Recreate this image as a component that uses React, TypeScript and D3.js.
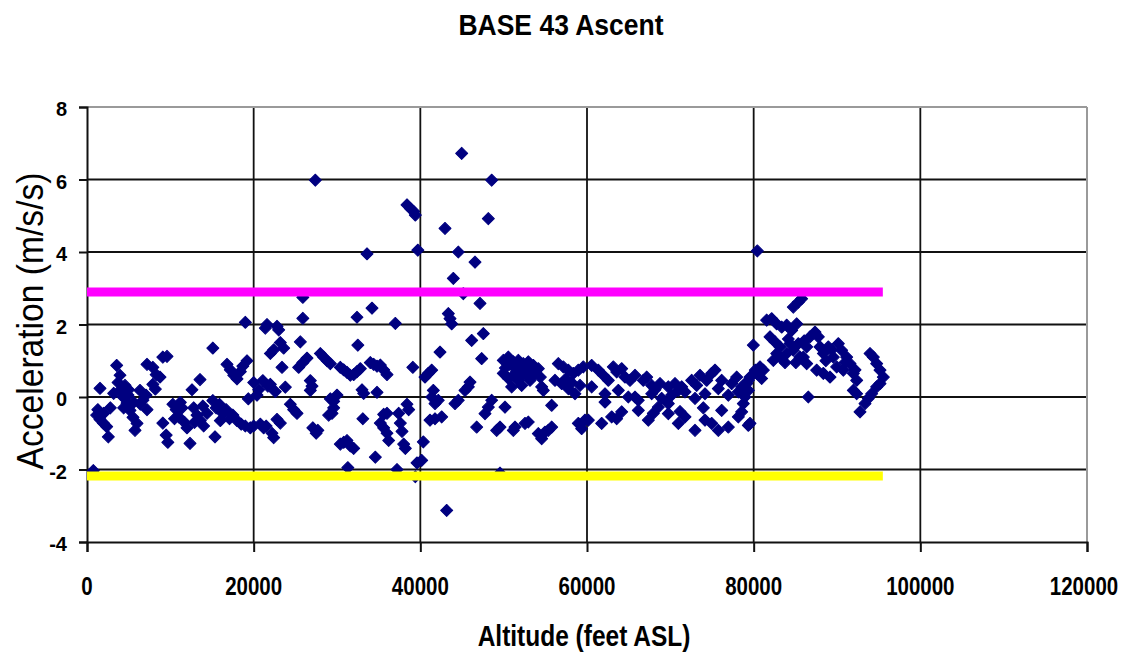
import { useEffect, useRef } from "react";
import * as d3 from "d3";

// [altitude (ft), acceleration (m/s/s)], grouped by altitude band
const band0to20k: [number, number][] = [
  [760, -2.03], [1560, 0.24], [1160, -0.5], [1560, -0.62], [1960, -0.72], [2360, -0.82],
  [2560, -1.1], [1300, -0.35], [2000, -0.45], [3560, 0.87], [3720, 0.4], [3960, 0.18],
  [4320, 0], [4800, -0.17], [5160, -0.37], [5520, -0.56], [6000, -0.73], [5760, -0.92],
  [3960, 0.6], [4560, 0.32], [4920, 0.05], [6360, 0.18], [6720, -0.09], [7080, 0.05],
  [7200, 0.9], [7900, 0.82], [8300, 0.62], [8760, 0.55], [9100, 1.1], [9600, 1.12],
  [7900, 0.35], [8200, 0.22], [9100, -0.72], [9500, -1.05], [9700, -1.25], [6400, -0.2],
  [7200, -0.35], [10300, -0.2], [10700, -0.35], [11000, -0.55], [11400, -0.3], [11700, -0.7],
  [12000, -0.85], [10500, -0.6], [11200, -0.15], [12360, -1.28], [12600, 0.2], [13560, 0.48],
  [12800, -0.3], [13200, -0.5], [13600, -0.65], [14000, -0.8], [14400, -0.45], [13900, -0.25],
  [12900, -0.7], [15100, 1.35], [15360, -1.1], [15100, -0.1], [15500, -0.3], [15900, -0.2],
  [16300, -0.45], [16700, -0.35], [17100, -0.6], [17500, -0.5], [16000, -0.65], [16800, 0.9],
  [17200, 0.75], [17600, 0.6], [18000, 0.5], [18400, 0.7], [18700, 0.85], [19000, 2.06],
  [19200, 1.0], [19360, -0.05], [18000, -0.65], [18500, -0.75], [19000, -0.8], [19600, -0.85],
  [20000, -0.8], [4400, -0.3], [5000, 0.2], [5600, -0.15], [2800, -0.3], [3200, 0.1],
];

const band20to40k: [number, number][] = [
  [20000, 0.4], [20600, 0.2], [21100, 0.45], [21700, 0.3], [22000, 0.35], [22600, 0.15],
  [20400, 0.05], [21200, -0.85], [20800, -0.75], [21500, -0.8], [21400, 1.9], [21600, 2.0],
  [22800, 1.95], [23000, 1.85], [22000, 1.2], [22400, 1.3], [23200, 1.5], [23600, 1.35],
  [23400, 0.82], [22200, -1.0], [22400, -1.12], [22800, -0.62], [23200, -0.72], [23800, 0.27],
  [24400, -0.2], [24800, -0.35], [25200, -0.45], [25900, 2.75], [25900, 2.17], [25600, 1.52],
  [25400, 0.82], [25900, 0.95], [26400, 1.07], [26800, 0.45], [27000, 0.3], [26800, 0.18],
  [27400, 5.98], [27100, -0.85], [27500, -1.0], [27700, -0.92], [28000, 1.2], [28400, 1.1],
  [28800, 1.0], [29200, 0.92], [29200, -0.05], [29600, -0.12], [30000, 0.05], [29600, -0.3],
  [29400, -0.45], [29000, -0.5], [30400, 0.82], [30800, 0.75], [31200, 0.68], [31600, 0.6],
  [32000, 0.62], [32400, 0.7], [32800, 0.78], [30400, -1.3], [30800, -1.25], [31200, -1.2],
  [31600, -1.35], [32000, -1.42], [31300, -1.95], [32400, 2.2], [32500, 1.43], [33000, 0.2],
  [33200, 0.1], [33100, -0.6], [33600, 3.95], [34200, 2.45], [34000, 0.95], [34400, 0.9],
  [34800, 0.85], [35200, 0.88], [35600, 0.75], [36000, 0.62], [34800, 0.13], [34600, -1.66],
  [35200, -0.72], [35600, -0.85], [36000, -1.0], [36200, -1.2], [35600, -0.48], [36000, -0.45],
  [37000, 2.03], [37200, -2.0], [37400, -0.45], [37600, -0.72], [37800, -0.95], [38000, -1.3],
  [38200, -1.42], [38400, -0.2], [38600, -0.35], [38400, 5.3], [38800, 5.2], [39200, 5.12],
  [39400, 5.02], [39100, 0.82], [39700, 4.05], [39600, -1.82], [39400, -2.2],
];

const band40to60k: [number, number][] = [
  [40960, 0.65], [41360, 0.74], [40560, 0.55], [41560, 0.18], [41360, 0], [41760, -0.18],
  [42160, -0.09], [41160, -0.64], [41760, -0.6], [42560, -0.55], [40360, -1.24], [40160, -1.75],
  [42360, 1.24], [42960, 4.65], [43160, -3.13], [43960, 3.27], [44560, 4.0], [44960, 6.72],
  [45160, 2.85], [43360, 2.3], [43560, 2.16], [43760, 2.02], [44160, -0.18], [44560, -0.09],
  [45360, 0.18], [45760, 0.28], [45960, 0.41], [46160, 1.56], [46560, 3.72], [47160, 2.58],
  [47360, 1.06], [47560, 1.75], [46760, -0.83], [47760, -0.46], [48160, -0.28], [48560, -0.09],
  [48160, 4.92], [48560, 5.98], [49160, -0.92], [49560, -0.83], [49560, -2.1], [50160, -0.28],
  [49960, 1.01], [50560, 1.1], [51160, 0.97], [51760, 1.01], [52360, 0.92], [52960, 0.97],
  [53560, 0.87], [54160, 0.78], [49960, 0.65], [50560, 0.51], [51160, 0.6], [51760, 0.46],
  [52360, 0.65], [52960, 0.74], [53560, 0.6], [50960, 0.28], [52160, 0.32], [53160, 0.46],
  [50200, 0.8], [51400, 0.8], [52600, 0.8], [53800, 0.7], [54400, 0.55], [51360, -0.83],
  [51160, -0.92], [52560, -0.73], [52960, -0.69], [54560, 0.28], [54760, 0.18], [54160, -1.01],
  [54560, -1.15], [54960, -0.97], [55360, -0.92], [55760, -0.83], [55760, -0.23], [56560, 0.92],
  [57160, 0.83], [57760, 0.74], [58360, 0.65], [58960, 0.74], [59560, 0.83], [56160, 0.46],
  [56960, 0.37], [57760, 0.23], [58560, 0.09], [59160, 0.32], [58960, -0.73], [59360, -0.87],
  [59760, -0.64], [50760, 0.9], [51960, 0.9], [53160, 0.9], [52960, 0.55], [51560, 0.7],
  [57460, 0.5], [58160, 0.4],
];

const band60to80k: [number, number][] = [
  [60560, 0.87], [61360, 0.74], [62560, 0.46], [63560, 0.69], [64560, 0.55], [65760, 0.6],
  [66760, 0.46], [67760, 0.32], [68760, 0.37], [69760, 0.28], [70560, 0.37], [71360, 0.28],
  [72560, 0.46], [73560, 0.6], [74960, 0.65], [76160, 0.46], [77360, 0.37], [78560, 0.28],
  [79360, 0.46], [60560, 0.28], [62160, 0.09], [63760, 0.18], [64960, 0], [66160, -0.09],
  [67760, 0.09], [68960, -0.04], [70160, 0.05], [71760, 0.14], [72960, -0.04], [74160, 0.09],
  [75760, 0.23], [76960, 0.05], [78160, 0.14], [78960, 0], [60160, -0.64], [61760, -0.73],
  [62960, -0.55], [64160, -0.41], [62160, -0.14], [66160, -0.37], [67360, -0.64], [68560, -0.28],
  [69760, -0.46], [70960, -0.73], [71760, -0.55], [72960, -0.92], [74160, -0.64], [74960, -0.73],
  [75760, -0.92], [76960, -0.83], [78160, -0.55], [79360, -0.78], [65760, 0], [69760, -0.18],
  [76160, -0.37], [79160, 0.37], [79560, 0.55], [79360, 0.18], [78760, -0.18], [78560, -0.41],
  [79560, -0.73], [61960, 0.6], [63160, 0.83], [64160, 0.78], [65160, 0.46], [67160, 0.55],
  [68160, 0.2], [70960, 0.18], [73160, 0.32], [74360, 0.46], [75360, 0.74], [77960, 0.55],
  [73960, -0.3], [71160, -0.4], [67960, -0.45], [63560, -0.6],
];

const band80to96k: [number, number][] = [
  [79960, 1.43], [80200, 0.74], [80440, 4.03], [80760, 0.83], [81160, 0.74], [80360, 0.65],
  [80960, 0.51], [84760, 2.48], [85360, 2.62], [85760, 2.71], [81560, 2.12], [82160, 2.16],
  [82760, 2.02], [83360, 1.93], [83960, 1.98], [84560, 1.84], [85160, 2.02], [81960, 1.66],
  [82560, 1.52], [83160, 1.38], [82760, 1.2], [82360, 1.01], [83360, 1.06], [83960, 1.2],
  [84360, 1.47], [84760, 1.29], [85360, 1.47], [85560, 1.1], [86360, 1.38], [86760, 1.66],
  [87360, 1.79], [87760, 1.66], [87960, 1.38], [88360, 1.2], [88960, 1.38], [89560, 1.1],
  [90160, 1.47], [90560, 1.29], [91160, 1.1], [91560, 0.92], [91960, 0.65], [92360, 0.46],
  [90760, 0.74], [89960, 0.83], [89160, 0.55], [88360, 0.65], [87560, 0.74], [86360, 0.92],
  [85960, 1.1], [86560, 0.0], [92760, -0.41], [93360, -0.18], [93760, -0.04], [91960, 0.18],
  [92360, 0.09], [93960, 1.2], [94360, 1.1], [94760, 0.92], [95160, 0.74], [95560, 0.55],
  [94760, 0.28], [95160, 0.37], [94160, 0.09], [84160, 1.6], [86060, 1.55], [88660, 1.0],
  [89360, 1.3], [90960, 0.95], [92160, 0.75], [83760, 0.95], [85060, 0.95],
];

const xTicks = [0, 20000, 40000, 60000, 80000, 100000, 120000];
const yTicks = [-4, -2, 0, 2, 4, 6, 8];

// horizontal limit lines
const upperLimit = 2.9;
const lowerLimit = -2.18;
const limitEndAltitude = 95500;

const title = "BASE 43 Ascent";
const xTitle = "Altitude (feet ASL)";
const yTitle = "Acceleration (m/s/s)";

export default function App() {
  const svgRef = useRef<SVGSVGElement>(null);

  useEffect(() => {
    document.body.style.margin = "0";
    if (!svgRef.current) return;

    const width = 1128;
    const height = 654;
    const margin = { top: 107, right: 41, bottom: 112, left: 87 };
    const font = "Liberation Sans, Arial, sans-serif";

    const svg = d3.select(svgRef.current);
    svg.selectAll("*").remove();

    const x = d3.scaleLinear()
      .domain([0, 120000])
      .range([margin.left, width - margin.right]);

    const y = d3.scaleLinear()
      .domain([-4, 8])
      .range([height - margin.bottom, margin.top]);

    const data = [...band0to20k, ...band20to40k, ...band40to60k, ...band60to80k, ...band80to96k];

    // grid
    const grid = svg.append("g");
    grid.selectAll("line.h")
      .data(yTicks.filter(t => t > -4 && t < 8))
      .join("line")
      .attr("x1", x(0)).attr("x2", x(120000))
      .attr("y1", d => y(d)).attr("y2", d => y(d))
      .attr("stroke", "#111").attr("stroke-width", 1.8);
    grid.selectAll("line.v")
      .data(xTicks.filter(t => t > 0 && t < 120000))
      .join("line")
      .attr("x1", d => x(d)).attr("x2", d => x(d))
      .attr("y1", y(8)).attr("y2", y(-4))
      .attr("stroke", "#111").attr("stroke-width", 1.8);

    // top and right frame edges (grey)
    grid.append("line")
      .attr("x1", x(0)).attr("x2", x(120000)).attr("y1", y(8)).attr("y2", y(8))
      .attr("stroke", "#9a9a9a").attr("stroke-width", 2);
    grid.append("line")
      .attr("x1", x(120000)).attr("x2", x(120000)).attr("y1", y(8)).attr("y2", y(-4))
      .attr("stroke", "#9a9a9a").attr("stroke-width", 2);

    // axes
    const xAxis = svg.append("g")
      .attr("transform", `translate(0,${y(-4)})`)
      .call(d3.axisBottom(x).tickValues(xTicks).tickSize(10).tickFormat(() => ""));
    xAxis.select(".domain").attr("stroke", "#111").attr("stroke-width", 2);
    xAxis.selectAll(".tick line").attr("stroke", "#111").attr("stroke-width", 2);

    const yAxis = svg.append("g")
      .attr("transform", `translate(${x(0)},0)`)
      .call(d3.axisLeft(y).tickValues(yTicks).tickSize(8).tickFormat(() => ""));
    yAxis.select(".domain").attr("stroke", "#111").attr("stroke-width", 2);
    yAxis.selectAll(".tick line").attr("stroke", "#111").attr("stroke-width", 2);

    // tick labels (tall, narrow digits as in the original)
    svg.append("g")
      .selectAll("text")
      .data(xTicks)
      .join("text")
      .attr("transform", d => `translate(${d === 120000 ? x(d) - 3 : x(d)},595) scale(1,1.25)`)
      .attr("text-anchor", "middle")
      .attr("font-family", font)
      .attr("font-weight", "bold")
      .attr("font-size", 20.5)
      .attr("fill", "#000")
      .text(d => String(d));

    svg.append("g")
      .selectAll("text")
      .data(yTicks)
      .join("text")
      .attr("x", 67)
      .attr("y", d => y(d) + 9)
      .attr("text-anchor", "end")
      .attr("font-family", font)
      .attr("font-weight", "bold")
      .attr("font-size", 20)
      .attr("fill", "#000")
      .text(d => String(d));

    // points
    const diamond = d3.symbol().type(d3.symbolSquare).size(72)();
    svg.append("g")
      .attr("fill", "#000080")
      .attr("stroke", "#000080")
      .attr("stroke-width", 1)
      .attr("stroke-linejoin", "round")
      .selectAll("path")
      .data(data)
      .join("path")
      .attr("d", diamond)
      .attr("transform", d => `translate(${x(d[0])},${y(d[1])}) rotate(45)`);

    // limit lines
    svg.append("line")
      .attr("x1", x(0)).attr("x2", x(limitEndAltitude))
      .attr("y1", y(upperLimit)).attr("y2", y(upperLimit))
      .attr("stroke", "#ff00ff").attr("stroke-width", 9);
    svg.append("line")
      .attr("x1", x(0)).attr("x2", x(limitEndAltitude))
      .attr("y1", y(lowerLimit)).attr("y2", y(lowerLimit))
      .attr("stroke", "#ffff00").attr("stroke-width", 9);

    // titles
    svg.append("text")
      .attr("transform", "translate(561,35) scale(1,1.12)")
      .attr("text-anchor", "middle")
      .attr("font-family", font).attr("font-weight", "bold").attr("font-size", 26.5)
      .text(title);

    svg.append("text")
      .attr("transform", "translate(584,646) scale(1,1.2)")
      .attr("text-anchor", "middle")
      .attr("font-family", font).attr("font-weight", "bold").attr("font-size", 24.5)
      .text(xTitle);

    svg.append("text")
      .attr("transform", "translate(43,321) rotate(-90)")
      .attr("text-anchor", "middle")
      .attr("font-family", font).attr("font-size", 37)
      .attr("textLength", 297).attr("lengthAdjust", "spacingAndGlyphs")
      .text(yTitle);
  }, []);

  return (
    <svg ref={svgRef} width={1128} height={654} style={{ display: "block", background: "#fff" }} />
  );
}
